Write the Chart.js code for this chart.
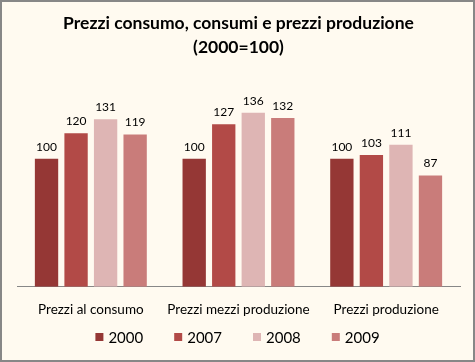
<!DOCTYPE html>
<html>
<head>
<meta charset="utf-8">
<script src="https://cdn.jsdelivr.net/npm/chart.js@4"></script>
<style>
  html, body { margin: 0; padding: 0; background: #fff; }
  #wrap { width: 475px; height: 362px; position: relative; }
</style>
</head>
<body>
<div id="wrap"><canvas id="myChart" width="475" height="362"></canvas></div>
<script>
const categories = ['Prezzi al consumo', 'Prezzi mezzi produzione', 'Prezzi produzione'];
const seriesNames = ['2000', '2007', '2008', '2009'];
const values2000 = [100, 100, 100];
const values2007 = [120, 127, 103];
const values2008 = [131, 136, 111];
const values2009 = [119, 132, 87];
const colors = ['#953735', '#B24A47', '#DEB5B4', '#C97C7A'];

const FONT = 'Lato, "Open Sans", sans-serif';
let ctx = document.getElementById('myChart').getContext('2d');

// background + outer border
const frame = {
    id: 'frame',
    beforeDraw(chart) {
        const c = chart.ctx;
        c.save();
        c.fillStyle = '#FFFAF0';
        c.fillRect(0, 0, chart.width, chart.height);
        c.strokeStyle = '#878787';
        c.lineWidth = 2;
        c.strokeRect(1, 1, chart.width - 2, chart.height - 2);
        c.restore();
    }
};

// value labels over the bars
const valueLabels = {
    id: 'valueLabels',
    afterDatasetsDraw(chart) {
        const c = chart.ctx;
        c.save();
        c.font = '12px ' + FONT;
        c.fillStyle = '#000';
        c.textAlign = 'center';
        c.textBaseline = 'bottom';
        chart.data.datasets.forEach((ds, i) => {
            chart.getDatasetMeta(i).data.forEach((bar, j) => {
                c.fillText(ds.data[j], bar.x, bar.y - 6);
            });
        });
        c.restore();
    }
};

// legend at the bottom, drawn by hand so the spacing can match
const bottomLegend = {
    id: 'bottomLegend',
    afterDraw(chart) {
        const c = chart.ctx;
        const box = 8, gap = 5, spacing = 31, y = 337;
        c.save();
        c.font = '15px ' + FONT;
        c.textBaseline = 'middle';
        c.textAlign = 'left';
        const ds = chart.data.datasets;
        const widths = ds.map(d => box + gap + c.measureText(d.label).width);
        const total = widths.reduce((a, b) => a + b, 0) + spacing * (ds.length - 1);
        let x = (chart.width - total) / 2;
        ds.forEach((d, i) => {
            c.fillStyle = d.backgroundColor;
            c.fillRect(x, y - box / 2, box, box);
            c.fillStyle = '#000';
            c.fillText(d.label, x + box + gap, y + 1);
            x += widths[i] + spacing;
        });
        c.restore();
    }
};

const allValues = [values2000, values2007, values2008, values2009];

let myChart = new Chart(ctx, {
    type: 'bar',
    data: {
        labels: categories,
        datasets: seriesNames.map((name, i) => ({
            label: name,
            data: allValues[i],
            backgroundColor: colors[i],
            borderWidth: 0,
            categoryPercentage: 0.8,
            barPercentage: 0.79
        }))
    },
    options: {
        responsive: false,
        animation: false,
        layout: { padding: { left: 17, right: 15, top: 6, bottom: 29 } },
        scales: {
            x: {
                grid: { display: false, drawTicks: false },
                border: { display: true, color: '#878787', width: 1 },
                ticks: {
                    color: '#000',
                    padding: 15,
                    maxRotation: 0,
                    minRotation: 0,
                    autoSkip: false,
                    font: { family: FONT, size: 13.5 }
                }
            },
            y: {
                display: false,
                min: 0,
                max: 170
            }
        },
        plugins: {
            title: {
                display: true,
                text: ['Prezzi consumo, consumi e prezzi produzione', '(2000=100)'],
                color: '#000',
                font: { family: FONT, size: 17.5, weight: 'bold', lineHeight: 1.35 },
                padding: { top: 6, bottom: 10 }
            },
            legend: { display: false },
            tooltip: { enabled: false }
        }
    },
    plugins: [frame, valueLabels, bottomLegend]
});
</script>
</body>
</html>
